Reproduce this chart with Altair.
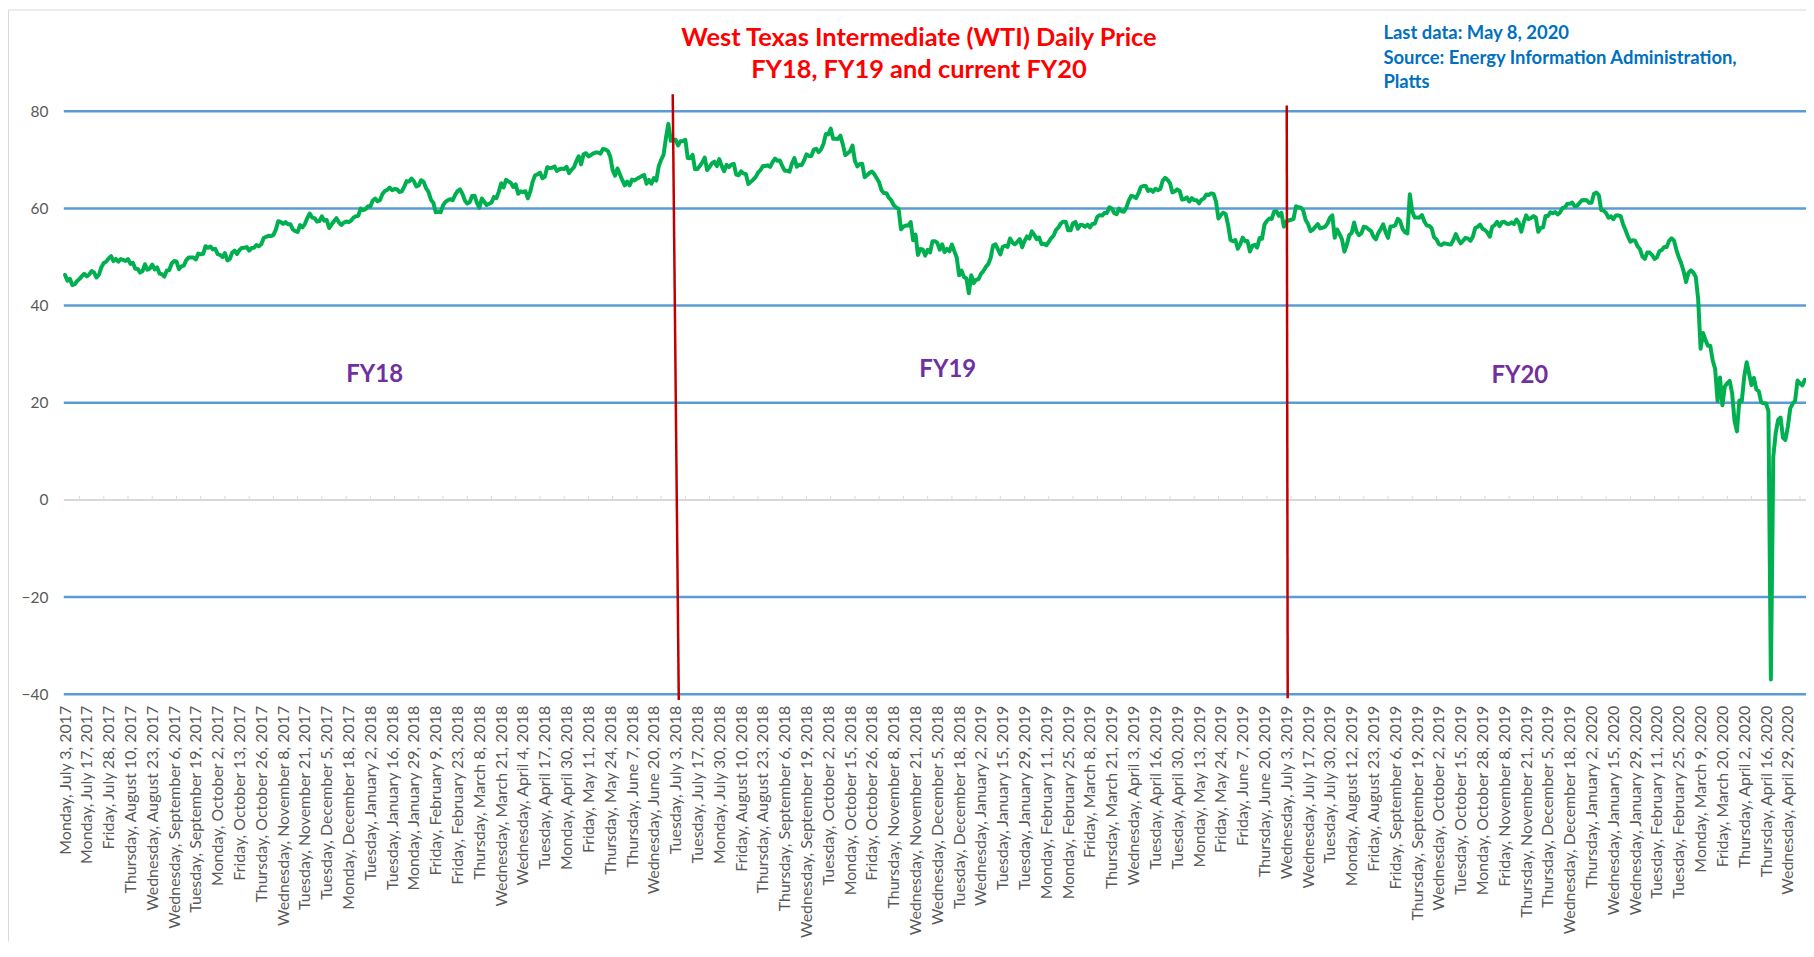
import json
import pandas as pd
import altair as alt

# ---------------- data ----------------
tick_labels = [
    "Monday, July 3, 2017", "Monday, July 17, 2017", "Friday, July 28, 2017",
    "Thursday, August 10, 2017", "Wednesday, August 23, 2017", "Wednesday, September 6, 2017",
    "Tuesday, September 19, 2017", "Monday, October 2, 2017", "Friday, October 13, 2017",
    "Thursday, October 26, 2017", "Wednesday, November 8, 2017", "Tuesday, November 21, 2017",
    "Tuesday, December 5, 2017", "Monday, December 18, 2017",
    "Tuesday, January 2, 2018", "Tuesday, January 16, 2018", "Monday, January 29, 2018",
    "Friday, February 9, 2018", "Friday, February 23, 2018", "Thursday, March 8, 2018",
    "Wednesday, March 21, 2018", "Wednesday, April 4, 2018", "Tuesday, April 17, 2018",
    "Monday, April 30, 2018", "Friday, May 11, 2018", "Thursday, May 24, 2018",
    "Thursday, June 7, 2018", "Wednesday, June 20, 2018", "Tuesday, July 3, 2018",
    "Tuesday, July 17, 2018", "Monday, July 30, 2018", "Friday, August 10, 2018",
    "Thursday, August 23, 2018", "Thursday, September 6, 2018", "Wednesday, September 19, 2018",
    "Tuesday, October 2, 2018", "Monday, October 15, 2018", "Friday, October 26, 2018",
    "Thursday, November 8, 2018", "Wednesday, November 21, 2018", "Wednesday, December 5, 2018",
    "Tuesday, December 18, 2018",
    "Wednesday, January 2, 2019", "Tuesday, January 15, 2019", "Tuesday, January 29, 2019",
    "Monday, February 11, 2019", "Monday, February 25, 2019", "Friday, March 8, 2019",
    "Thursday, March 21, 2019", "Wednesday, April 3, 2019", "Tuesday, April 16, 2019",
    "Tuesday, April 30, 2019", "Monday, May 13, 2019", "Friday, May 24, 2019",
    "Friday, June 7, 2019", "Thursday, June 20, 2019", "Wednesday, July 3, 2019",
    "Wednesday, July 17, 2019", "Tuesday, July 30, 2019", "Monday, August 12, 2019",
    "Friday, August 23, 2019", "Friday, September 6, 2019", "Thursday, September 19, 2019",
    "Wednesday, October 2, 2019", "Tuesday, October 15, 2019", "Monday, October 28, 2019",
    "Friday, November 8, 2019", "Thursday, November 21, 2019", "Thursday, December 5, 2019",
    "Wednesday, December 18, 2019",
    "Thursday, January 2, 2020", "Wednesday, January 15, 2020", "Wednesday, January 29, 2020",
    "Tuesday, February 11, 2020", "Tuesday, February 25, 2020", "Monday, March 9, 2020",
    "Friday, March 20, 2020", "Thursday, April 2, 2020", "Thursday, April 16, 2020",
    "Wednesday, April 29, 2020",
]

# daily WTI price, one value per trading day (Jul 3, 2017 .. May 8, 2020)
wti_price = [
    # Jul 2017
    46.3, 45.13, 45.52, 44.23, 44.40, 45.04, 45.49, 46.08, 46.54, 46.02, 46.40, 47.12, 46.79, 45.77,
    46.34, 47.89, 48.75, 49.04, 49.71, 50.17,
    # Aug 2017
    49.16, 49.59, 49.03, 49.58, 49.39, 49.17, 49.56, 48.59, 48.82, 47.59, 47.55, 46.78, 47.09, 48.51,
    47.37, 47.64, 48.41, 47.43, 47.87, 46.57, 46.44, 45.96, 47.23,
    # Sep 2017
    47.29, 48.66, 49.16, 49.09, 47.48, 48.07, 48.23, 49.30, 49.89, 49.89, 49.91, 49.48, 50.69, 50.55,
    50.66, 52.22, 51.88, 52.14, 51.56, 51.67,
    # Oct 2017
    50.58, 50.42, 49.98, 50.79, 49.29, 49.58, 50.92, 51.30, 50.60, 51.45, 51.87, 51.88, 52.04, 51.29,
    51.84, 51.90, 52.47, 52.18, 52.64, 53.90, 54.15, 54.38,
    # Nov 2017
    54.30, 54.54, 55.64, 57.35, 57.20, 56.81, 57.17, 56.74, 56.76, 55.70, 55.33, 55.14, 56.55, 56.09,
    56.83, 58.02, 58.95, 58.11, 57.99, 57.30, 57.40,
    # Dec 2017
    58.36, 57.47, 57.62, 55.96, 56.69, 57.36, 57.99, 57.14, 56.60, 57.04, 57.30, 57.16, 57.46, 58.09,
    58.36, 58.47, 59.97, 59.64, 59.84, 60.42,
    # Jan 2018
    60.37, 61.63, 62.01, 61.44, 61.73, 62.96, 63.57, 63.80, 64.30, 63.73, 63.97, 63.95, 63.37, 63.49,
    64.47, 65.61, 65.51, 66.14, 65.56, 64.50, 64.73,
    # Feb 2018
    65.80, 65.45, 64.15, 63.39, 61.79, 61.15, 59.20, 59.29, 59.19, 60.60, 61.34, 61.68, 61.90, 61.68,
    62.77, 63.55, 63.91, 63.01, 61.64,
    # Mar 2018
    60.99, 61.25, 62.57, 62.60, 61.15, 60.12, 62.04, 61.36, 60.71, 60.96, 61.19, 62.34, 62.10, 63.40,
    65.17, 64.30, 65.88, 65.55, 65.25, 64.38, 64.94,
    # Apr 2018
    63.01, 63.51, 63.37, 63.54, 62.06, 63.42, 65.51, 66.82, 67.02, 67.39, 66.22, 66.52, 68.47, 68.29,
    68.38, 68.64, 67.70, 68.05, 68.19, 68.10, 68.57,
    # May 2018
    67.25, 67.93, 68.43, 69.72, 70.73, 69.06, 71.14, 71.36, 70.70, 70.96, 71.31, 71.49, 71.49, 71.28,
    72.24, 72.13, 71.84, 70.71, 67.88, 66.73, 68.21, 67.04,
    # Jun 2018
    65.81, 64.75, 65.52, 64.73, 65.95, 65.74, 66.10, 66.36, 66.64, 66.89, 65.06, 65.85, 65.07, 66.22,
    65.71, 68.58, 70.00, 71.00, 74.50, 77.40, 73.90,
    # Jul 2018
    73.94, 74.14, 72.94, 73.80, 73.85, 74.11, 70.38, 70.33, 71.01, 68.06, 68.08, 68.76, 69.46, 70.46,
    67.89, 68.52, 69.30, 69.61, 68.69, 70.13, 68.76,
    # Aug 2018
    67.66, 68.96, 68.49, 69.01, 69.17, 66.94, 66.81, 67.63, 67.20, 67.04, 65.01, 65.46, 65.91, 66.43,
    67.35, 67.86, 68.72, 68.72, 68.87, 68.53, 69.51, 70.25, 69.80,
    # Sep 2018
    69.87, 68.72, 67.77, 67.75, 67.54, 69.25, 70.37, 68.59, 68.99, 68.91, 69.85, 71.12, 70.80, 70.78,
    72.08, 72.28, 71.57, 72.12, 73.25,
    # Oct 2018
    75.30, 75.23, 76.41, 74.33, 74.34, 74.29, 74.96, 73.17, 70.97, 71.34, 71.78, 72.92, 69.75, 68.65,
    69.12, 69.17, 66.43, 66.82, 67.33, 67.59, 67.04, 66.18, 65.31,
    # Nov 2018
    63.69, 63.14, 63.10, 62.21, 61.67, 60.67, 60.19, 59.93, 55.69, 56.25, 56.46, 56.46, 57.20, 53.43,
    54.63, 50.42, 51.63, 51.56, 50.29, 51.45, 50.93,
    # Dec 2018
    53.25, 53.25, 52.89, 51.49, 52.61, 51.00, 51.65, 51.15, 52.58, 51.20, 49.88, 46.24, 47.20, 45.88,
    45.59, 42.53, 46.22, 44.61, 45.33, 45.41,
    # Jan 2019
    46.54, 47.09, 47.96, 48.52, 49.78, 52.36, 52.59, 51.59, 50.51, 52.11, 52.31, 52.07, 53.80, 52.97,
    52.61, 53.13, 53.69, 51.99, 53.31, 54.23, 53.79,
    # Feb 2019
    55.26, 54.56, 53.66, 54.01, 52.64, 52.72, 52.41, 53.10, 53.90, 54.41, 55.59, 56.09, 56.92, 57.26,
    57.26, 55.48, 55.50, 56.94, 57.22,
    # Mar 2019
    55.80, 56.59, 56.56, 56.22, 56.66, 56.07, 56.79, 56.87, 58.26, 58.61, 58.52, 59.09, 59.03, 60.23,
    59.98, 59.04, 58.82, 59.94, 59.41, 59.30, 60.14,
    # Apr 2019
    61.59, 62.58, 62.46, 62.10, 63.08, 64.40, 64.61, 64.61, 63.58, 63.89, 63.40, 64.05, 63.76, 64.00,
    65.70, 66.30, 65.89, 65.21, 63.30, 63.50, 63.91,
    # May 2019
    63.60, 61.81, 61.94, 62.25, 61.40, 62.12, 61.70, 61.66, 61.04, 61.78, 62.02, 62.87, 62.76, 63.10,
    62.99, 61.42, 57.91, 58.63, 59.14, 58.81, 56.59, 53.50,
    # Jun 2019
    53.26, 53.48, 51.68, 52.59, 53.99, 53.26, 53.27, 51.14, 52.28, 52.51, 51.93, 53.90, 53.76, 56.65,
    57.43, 57.90, 57.83, 59.38, 59.43, 58.47,
    # Jul 2019
    59.09, 56.25, 57.34, 57.51, 57.66, 57.83, 60.43, 60.20, 60.21, 59.58, 57.62, 56.78, 55.30, 55.63,
    56.22, 56.77, 55.88, 56.02, 56.20, 56.87, 58.05, 58.58,
    # Aug 2019
    53.95, 55.66, 54.69, 53.63, 51.09, 52.54, 54.50, 54.93, 57.10, 55.23, 54.47, 54.87, 56.21, 56.13,
    55.68, 55.35, 54.17, 53.64, 54.93, 55.78, 56.71, 55.10,
    # Sep 2019
    53.94, 56.26, 56.30, 56.52, 57.85, 57.40, 55.75, 55.09, 54.85, 62.90, 59.34, 58.11, 58.13, 58.09,
    58.64, 57.29, 56.49, 56.41, 55.91, 54.07,
    # Oct 2019
    53.62, 52.64, 52.45, 52.81, 52.75, 52.63, 52.59, 53.55, 54.70, 53.59, 52.81, 53.36, 53.93, 53.78,
    53.31, 54.16, 55.97, 56.23, 56.66, 55.81, 55.54, 55.06, 54.18,
    # Nov 2019
    56.20, 56.54, 57.23, 56.35, 57.15, 57.24, 56.86, 56.80, 57.12, 56.77, 57.72, 57.05, 55.21, 57.11,
    58.58, 57.77, 58.01, 58.41, 58.11, 55.17,
    # Dec 2019
    55.96, 56.10, 58.43, 58.43, 59.20, 59.02, 59.24, 58.76, 59.18, 60.07, 60.21, 60.94, 60.93, 61.22,
    60.44, 60.52, 61.11, 61.68, 61.72, 61.68, 61.14,
    # Jan 2020
    61.17, 63.00, 63.27, 62.70, 59.65, 59.56, 59.04, 58.08, 58.38, 57.78, 58.52, 58.58, 58.41, 56.73,
    55.56, 54.21, 53.13, 53.45, 53.35, 52.19, 51.58,
    # Feb 2020
    50.07, 49.60, 50.94, 50.90, 50.40, 49.59, 49.94, 51.17, 51.43, 52.05, 52.03, 53.32, 53.84, 53.39,
    51.48, 49.97, 48.69, 47.07, 44.83,
    # Mar 2020
    46.78, 47.23, 46.79, 45.90, 41.28, 31.13, 34.35, 32.98, 31.73, 31.72, 28.70, 26.95, 20.37, 25.22,
    19.48, 23.36, 24.01, 24.49, 22.00, 16.30, 14.10, 20.48,
    # Apr 2020
    20.31, 25.32, 28.34, 26.08, 23.63, 25.09, 22.76, 22.41, 20.11, 19.87, 19.87, 18.27, -36.98, 8.91,
    13.78, 16.50, 16.94, 12.78, 12.34, 15.06, 18.84,
    # May 2020
    19.78, 20.39, 24.56, 23.99, 23.55, 24.74,
]

fy_names = ["FY18", "FY19", "FY20"]
fy_idx = [127.8, 364.3, 600.4]
fy_value = [25.8, 26.7, 25.6]

split_idx_top = [250.8, 504.2]
split_idx_bottom = [253.3, 504.6]
split_value_top = [83.5, 81.2]
split_value_bottom = [-41.2, -40.8]

grid_values = [80, 60, 40, 20, -20, -40]
axis_values = [-40, -20, 0, 20, 40, 60, 80]

title_lines = ["West Texas Intermediate (WTI) Daily Price", "FY18, FY19 and current FY20"]
note_lines = ["Last data: May 8, 2020", "Source: Energy Information Administration,", "Platts"]

LABEL_STEP = 9
TICK_STEP = 10
TICK_START = 6

# ---------------- chart ----------------
n = len(wti_price)
price_df = pd.DataFrame({"idx": list(range(n)), "price": wti_price})

PLOT_W, PLOT_H = 1748, 585
FONT = "Lato"
GRAY = "#595959"

xscale = alt.Scale(domain=[-0.5, n - 0.5], nice=False, zero=False)
yscale = alt.Scale(domain=[-40, 80], nice=False, zero=False)

label_js = "[" + ",".join(json.dumps(s) for s in tick_labels) + "]"
x_axis = alt.Axis(
    values=[LABEL_STEP * k for k in range(len(tick_labels))],
    labelExpr=f"{label_js}[round(datum.value / {LABEL_STEP})]",
    labelAngle=-90, labelFontSize=16, labelColor=GRAY, labelFont=FONT,
    labelPadding=11, labelOverlap=False, labelBound=False, labelFlush=False,
    labelLimit=400,
    ticks=False, domain=False, grid=False, title=None,
)
y_axis = alt.Axis(
    values=axis_values, labelFontSize=15.5, labelColor=GRAY, labelFont=FONT,
    labelPadding=16, ticks=False, domain=False, grid=False, title=None,
)


def X(field):
    return alt.X(field, type="quantitative", scale=xscale, axis=x_axis)


def Y(field):
    return alt.Y(field, type="quantitative", scale=yscale, axis=y_axis)


grid = alt.Chart(pd.DataFrame({"v": grid_values})).mark_rule(
    color="#5B9BD5", strokeWidth=2.5
).encode(y=Y("v"))

zero = alt.Chart(pd.DataFrame({"v": [0]})).mark_rule(
    color="#D9D9D9", strokeWidth=2
).encode(y=Y("v"))

tick_df = pd.DataFrame({"t": list(range(TICK_START, n, TICK_STEP))})
tick_df["lo"] = 0.0
tick_df["hi"] = 0.8
ticks = alt.Chart(tick_df).mark_rule(color="#D9D9D9", strokeWidth=1).encode(
    x=X("t"), y=Y("lo"), y2="hi:Q",
)

line = alt.Chart(price_df).mark_line(
    color="#00B050", strokeWidth=4, strokeJoin="round", strokeCap="round"
).encode(x=X("idx"), y=Y("price"))

split_df = pd.DataFrame({
    "x1": split_idx_top, "x2": split_idx_bottom,
    "y1": split_value_top, "y2": split_value_bottom,
})
splits = alt.Chart(split_df).mark_rule(color="#C00000", strokeWidth=2.5).encode(
    x=X("x1"), x2="x2:Q", y=Y("y1"), y2="y2:Q",
)

fy_df = pd.DataFrame({"name": fy_names, "x": fy_idx, "y": fy_value})
fy = alt.Chart(fy_df).mark_text(
    font=FONT, fontWeight="bold", fontSize=24, color="#7030A0",
    align="center", baseline="middle",
).encode(x=X("x"), y=Y("y"), text="name:N")

layers = [grid, zero, ticks, line, splits, fy]

for i, t in enumerate(title_lines):
    layers.append(
        alt.Chart(pd.DataFrame({"t": [t]})).mark_text(
            font=FONT, fontWeight="bold", fontSize=25.5, color="#FF0000",
            align="center", baseline="middle",
        ).encode(text="t:N", x=alt.value(858), y=alt.value(-73 + 32 * i))
    )

for i, t in enumerate(note_lines):
    layers.append(
        alt.Chart(pd.DataFrame({"t": [t]})).mark_text(
            font=FONT, fontWeight="bold", fontSize=18.5, color="#0070C0",
            align="left", baseline="middle",
        ).encode(text="t:N", x=alt.value(1324), y=alt.value(-78 + 24.5 * i))
    )

frame_df = pd.DataFrame({"a": [0]})
layers.append(
    alt.Chart(frame_df).mark_rule(color="#D9D9D9", strokeWidth=1).encode(
        x=alt.value(-55.5), y=alt.value(-101.5), y2=alt.value(PLOT_H + 248)
    )
)
layers.append(
    alt.Chart(frame_df).mark_rule(color="#D9D9D9", strokeWidth=1).encode(
        x=alt.value(-55.5), x2=alt.value(PLOT_W + 10), y=alt.value(-101.5)
    )
)

chart = alt.layer(*layers).properties(
    width=PLOT_W,
    height=PLOT_H,
    autosize=alt.AutoSizeParams(type="none"),
    padding={"left": 56, "top": 102, "right": 0, "bottom": 248},
    background="white",
).configure_view(stroke=None)

chart.save("out.html", embed_options={"renderer": "svg", "actions": False})
